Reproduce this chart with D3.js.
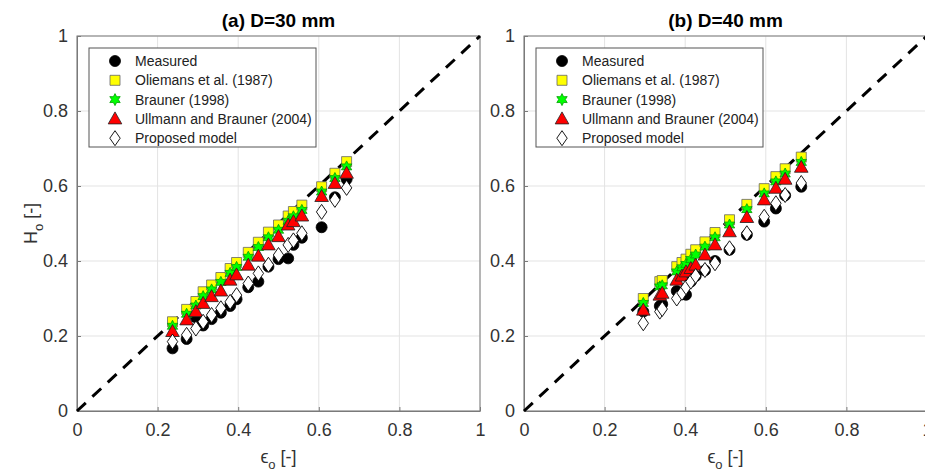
<!DOCTYPE html>
<html><head><meta charset="utf-8">
<script src="https://cdn.jsdelivr.net/npm/d3@7"></script>
<style>body{margin:0;background:#fff}svg{display:block}text{font-family:"Liberation Sans",Arial,sans-serif}</style>
</head><body><svg id="c" width="925" height="474"></svg>
<script>
// ---- data ----
const ticks = [0, 0.2, 0.4, 0.6, 0.8, 1];
const tickLabels = ["0", "0.2", "0.4", "0.6", "0.8", "1"];
const seriesNames = ["Measured", "Oliemans et al. (1987)", "Brauner (1998)", "Ullmann and Brauner (2004)", "Proposed model"];
const titles = ["(a) D=30 mm", "(b) D=40 mm"];

const epsA      = [0.237,0.272,0.295,0.313,0.334,0.357,0.380,0.396,0.425,0.450,0.475,0.500,0.524,0.537,0.558,0.607,0.640,0.669];
const measuredA = [0.167,0.192,0.250,0.228,0.245,0.262,0.280,0.298,0.330,0.345,0.385,0.405,0.407,0.443,0.462,0.490,0.570,0.618];
const oliemansA = [0.238,0.271,0.292,0.318,0.336,0.356,0.380,0.396,0.423,0.450,0.477,0.496,0.520,0.532,0.549,0.598,0.634,0.665];
const braunerA  = [0.226,0.258,0.280,0.305,0.323,0.343,0.367,0.383,0.410,0.436,0.462,0.482,0.506,0.518,0.535,0.584,0.620,0.651];
const ullmannA  = [0.212,0.243,0.265,0.287,0.305,0.320,0.349,0.363,0.389,0.413,0.443,0.465,0.496,0.505,0.520,0.572,0.607,0.634];
const proposedA = [0.185,0.203,0.220,0.238,0.256,0.274,0.291,0.309,0.340,0.367,0.390,0.416,0.443,0.455,0.474,0.531,0.563,0.595];

const epsB      = [0.296,0.337,0.343,0.379,0.392,0.402,0.414,0.426,0.449,0.474,0.510,0.553,0.596,0.625,0.648,0.688];
const measuredB = [0.265,0.280,0.285,0.320,0.312,0.310,0.345,0.360,0.375,0.400,0.430,0.470,0.505,0.540,0.575,0.598];
const oliemansB = [0.300,0.345,0.348,0.385,0.396,0.405,0.418,0.430,0.451,0.476,0.510,0.551,0.593,0.625,0.646,0.677];
const braunerB  = [0.287,0.331,0.334,0.371,0.382,0.391,0.404,0.416,0.437,0.462,0.496,0.537,0.579,0.611,0.632,0.663];
const ullmannB  = [0.269,0.309,0.314,0.349,0.360,0.371,0.380,0.389,0.416,0.443,0.478,0.516,0.563,0.594,0.618,0.650];
const proposedB = [0.234,0.265,0.272,0.300,0.315,0.330,0.345,0.360,0.376,0.394,0.434,0.474,0.518,0.554,0.576,0.608];

// ---- drawing ----
const svg = d3.select("#c");
const panels = [
  {x0: 77, x1: 480, eps: epsA, ys: [measuredA, oliemansA, braunerA, ullmannA, proposedA], ylab: true},
  {x0: 524, x1: 927, eps: epsB, ys: [measuredB, oliemansB, braunerB, ullmannB, proposedB], ylab: false}
];
const yTop = 36, yBot = 411;

function hexagram(r){
  const pts=[];
  for(let i=0;i<12;i++){
    const a=Math.PI/6*i - Math.PI/2;
    const rr = i%2===0 ? r : r*0.55;
    pts.push([rr*Math.cos(a), rr*Math.sin(a)]);
  }
  return "M"+pts.map(p=>p.join(",")).join("L")+"Z";
}
const markers = [
  {path: d3.symbol(d3.symbolCircle, 95)(), fill: "#000", stroke: "#000", sw: 0.8},
  {path: "M-5,-5L5,-5L5,5L-5,5Z", fill: "#ffff00", stroke: "#666", sw: 0.8},
  {path: hexagram(6), fill: "#00ff00", stroke: "#00a000", sw: 0.8},
  {path: "M0,-7L6.8,5L-6.8,5Z", fill: "#ff0000", stroke: "#222", sw: 0.8},
  {path: "M0,-7.5L5.2,0L0,7.5L-5.2,0Z", fill: "#fff", stroke: "#000", sw: 0.9}
];

panels.forEach((p, pi) => {
  const x = d3.scaleLinear().domain([0,1]).range([p.x0, p.x1]);
  const y = d3.scaleLinear().domain([0,1]).range([yBot, yTop]);
  const g = svg.append("g");
  // grid
  g.selectAll(".gx").data(ticks).join("line")
    .attr("x1", d=>x(d)).attr("x2", d=>x(d)).attr("y1", yTop).attr("y2", yBot)
    .attr("stroke", "#e3e3e3").attr("stroke-width", 1);
  g.selectAll(".gy").data(ticks).join("line")
    .attr("y1", d=>y(d)).attr("y2", d=>y(d)).attr("x1", p.x0).attr("x2", p.x1)
    .attr("stroke", "#e3e3e3").attr("stroke-width", 1);
  // box
  g.append("rect").attr("x", p.x0).attr("y", yTop).attr("width", p.x1-p.x0).attr("height", yBot-yTop)
    .attr("fill", "none").attr("stroke", "#7a7a7a").attr("stroke-width", 1);
  // axes
  const xa = d3.axisBottom(x).tickValues(ticks).tickFormat((d,i)=>tickLabels[i]).tickSizeInner(-4).tickSizeOuter(0).tickPadding(12);
  const ya = d3.axisLeft(y).tickValues(ticks).tickFormat((d,i)=>tickLabels[i]).tickSizeInner(-4).tickSizeOuter(0).tickPadding(9);
  const gx = g.append("g").attr("transform", `translate(0,${yBot})`).call(xa);
  const gy = g.append("g").attr("transform", `translate(${p.x0},0)`).call(ya);
  [gx, gy].forEach(a => {
    a.select(".domain").attr("stroke", "#7a7a7a");
    a.selectAll(".tick line").attr("stroke", "#7a7a7a");
    a.selectAll(".tick text").attr("fill", "#333").attr("font-size", 18).attr("font-family", '"Liberation Sans", Arial, sans-serif');
  });
  // diagonal dashed line
  g.append("line").attr("x1", x(0)).attr("y1", y(0)).attr("x2", x(1)).attr("y2", y(1))
    .attr("stroke", "#000").attr("stroke-width", 3).attr("stroke-dasharray", "12,9");
  // series
  p.ys.forEach((vals, si) => {
    const m = markers[si];
    g.append("g").selectAll("path").data(vals).join("path")
      .attr("d", m.path)
      .attr("transform", (d,i)=>`translate(${x(p.eps[i])},${y(d)})`)
      .attr("fill", m.fill).attr("stroke", m.stroke).attr("stroke-width", m.sw);
  });
  // title
  g.append("text").attr("x", (p.x0+p.x1)/2).attr("y", 27).attr("text-anchor", "middle")
    .attr("font-size", 19).attr("font-weight", "bold").attr("fill", "#000").text(titles[pi]);
  // x label
  const xl = g.append("text").attr("x", (p.x0+p.x1)/2).attr("y", 463).attr("text-anchor", "middle")
    .attr("font-size", 18).attr("fill", "#333");
  xl.append("tspan").text("\u03F5");
  xl.append("tspan").attr("dy", 6).attr("font-size", 13).text("o");
  xl.append("tspan").attr("dy", -6).text(" [-]");
  if (p.ylab) {
    const yl = g.append("text").attr("transform", `translate(37,${(yTop+yBot)/2}) rotate(-90)`).attr("text-anchor", "middle")
      .attr("font-size", 18).attr("fill", "#333");
    yl.append("tspan").text("H");
    yl.append("tspan").attr("dy", 6).attr("font-size", 13).text("o");
    yl.append("tspan").attr("dy", -6).text(" [-]");
  }
  // legend
  const lx = p.x0 + 12, ly = 48;
  const lg = g.append("g");
  lg.append("rect").attr("x", lx).attr("y", ly).attr("width", 227).attr("height", 99)
    .attr("fill", "#fff").attr("stroke", "#555").attr("stroke-width", 1);
  seriesNames.forEach((nm, si) => {
    const yy = ly + 13 + si*19.3;
    const m = markers[si];
    lg.append("path").attr("d", m.path).attr("transform", `translate(${lx+26},${yy})`)
      .attr("fill", m.fill).attr("stroke", m.stroke).attr("stroke-width", m.sw);
    lg.append("text").attr("x", lx+46).attr("y", yy+5).attr("font-size", 14).attr("fill", "#222").text(nm);
  });
});
</script></body></html>
